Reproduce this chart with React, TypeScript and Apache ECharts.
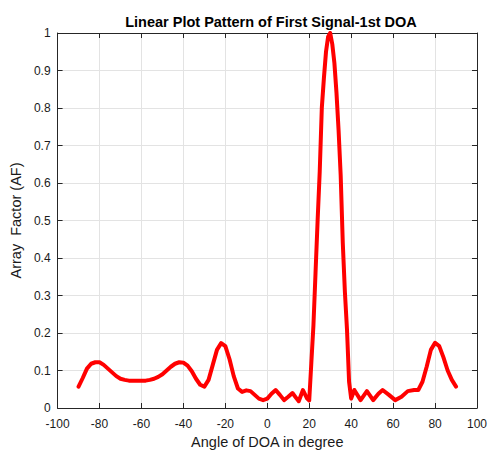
import React, { useEffect, useRef } from "react";
import * as echarts from "echarts";

const titleText = "Linear Plot Pattern of First Signal-1st DOA";
const xName = "Angle of DOA in degree";
const yName = "Array  Factor (AF)";

const angles = [
  -90, -88, -86, -84, -82, -80, -78, -76, -74, -72, -70, -68, -66, -64, -62, -60,
  -58, -56, -54, -52, -50, -48, -46, -44, -42, -40, -38, -36, -34, -32, -30, -28,
  -26, -24, -22, -20, -18, -16, -14, -12, -10, -8, -6, -4, -2, 0, 2, 4, 6, 8, 10,
  12, 14, 15, 17, 19, 20, 21, 22, 23, 24, 25, 26, 27, 28, 29, 30, 31, 32, 33, 34,
  35, 36, 37, 38, 39, 40, 41.5, 44.5, 47.5, 50.5, 53, 55, 58, 61, 64, 67, 70, 72,
  74, 76, 78, 80, 82, 84, 86, 88, 90,
];
const afValues = [
  0.057, 0.08, 0.105, 0.118, 0.122, 0.122, 0.115, 0.105, 0.095, 0.085, 0.078, 0.075,
  0.073, 0.073, 0.073, 0.073, 0.073, 0.075, 0.078, 0.083, 0.09, 0.1, 0.11, 0.118,
  0.122, 0.121, 0.113, 0.098, 0.078, 0.062, 0.057, 0.075, 0.115, 0.155, 0.173, 0.165,
  0.13, 0.085, 0.052, 0.043, 0.047, 0.045, 0.035, 0.025, 0.021, 0.025, 0.038, 0.048,
  0.035, 0.021, 0.03, 0.04, 0.025, 0.018, 0.048, 0.025, 0.02, 0.12, 0.22, 0.36, 0.5,
  0.63, 0.8, 0.88, 0.95, 0.99, 1.0, 0.97, 0.92, 0.84, 0.74, 0.62, 0.44, 0.31, 0.21,
  0.07, 0.025, 0.048, 0.021, 0.045, 0.021, 0.038, 0.048, 0.035, 0.021, 0.03, 0.045,
  0.048, 0.048, 0.07, 0.11, 0.155, 0.174, 0.165, 0.135, 0.1, 0.075, 0.057,
];

const FONT = "Liberation Sans, Arial, Helvetica, sans-serif";
const AXIS_COLOR = "#262626";
const TEXT_COLOR = "#1a1a1a";

export default function App() {
  const ref = useRef<HTMLDivElement>(null);
  useEffect(() => {
    if (!ref.current) return;
    const chart = echarts.init(ref.current, undefined, { renderer: "svg" });
    const data = angles.map((a, i) => [a, afValues[i]]);
    const axisCommon = {
      axisLine: { show: true, onZero: false, lineStyle: { color: AXIS_COLOR, width: 1 } },
      axisTick: { show: true, inside: true, length: 5, lineStyle: { color: AXIS_COLOR } },
    };
    chart.setOption({
      animation: false,
      backgroundColor: "#ffffff",
      title: {
        text: titleText,
        left: 266,
        top: 9,
        textAlign: "center",
        textStyle: { fontFamily: FONT, fontSize: 14.5, fontWeight: "bold", color: "#000" },
      },
      grid: { left: 55, right: 14, top: 33, bottom: 50, containLabel: false },
      xAxis: [
        {
          type: "value",
          min: -100,
          max: 100,
          interval: 20,
          position: "bottom",
          name: xName,
          nameLocation: "middle",
          nameGap: 26,
          nameTextStyle: { fontFamily: FONT, fontSize: 14.5, color: TEXT_COLOR },
          ...axisCommon,
          axisLabel: { fontFamily: FONT, fontSize: 12, color: TEXT_COLOR, margin: 10 },
          splitLine: { show: true, lineStyle: { color: "#e3e3e3", width: 1 } },
        },
        {
          type: "value",
          min: -100,
          max: 100,
          interval: 20,
          position: "top",
          ...axisCommon,
          axisLabel: { show: false },
          splitLine: { show: false },
        },
      ],
      yAxis: [
        {
          type: "value",
          min: 0,
          max: 1,
          interval: 0.1,
          position: "left",
          name: yName,
          nameLocation: "middle",
          nameGap: 30,
          nameTextStyle: { fontFamily: FONT, fontSize: 14.5, color: TEXT_COLOR },
          ...axisCommon,
          axisLabel: {
            fontFamily: FONT,
            fontSize: 12,
            color: TEXT_COLOR,
            margin: 7,
            formatter: (v: number) => String(Math.round(v * 10) / 10),
          },
          splitLine: { show: true, lineStyle: { color: "#e3e3e3", width: 1 } },
        },
        {
          type: "value",
          min: 0,
          max: 1,
          interval: 0.1,
          position: "right",
          ...axisCommon,
          axisLabel: { show: false },
          splitLine: { show: false },
        },
      ],
      series: [
        {
          type: "line",
          data,
          showSymbol: false,
          symbol: "none",
          smooth: false,
          lineStyle: { color: "#ff0000", width: 4, join: "round", cap: "round" },
          z: 3,
        },
      ],
    });
    return () => chart.dispose();
  }, []);
  return (
    <div
      ref={ref}
      style={{ position: "fixed", left: 0, top: 0, width: 491, height: 458 }}
    />
  );
}
